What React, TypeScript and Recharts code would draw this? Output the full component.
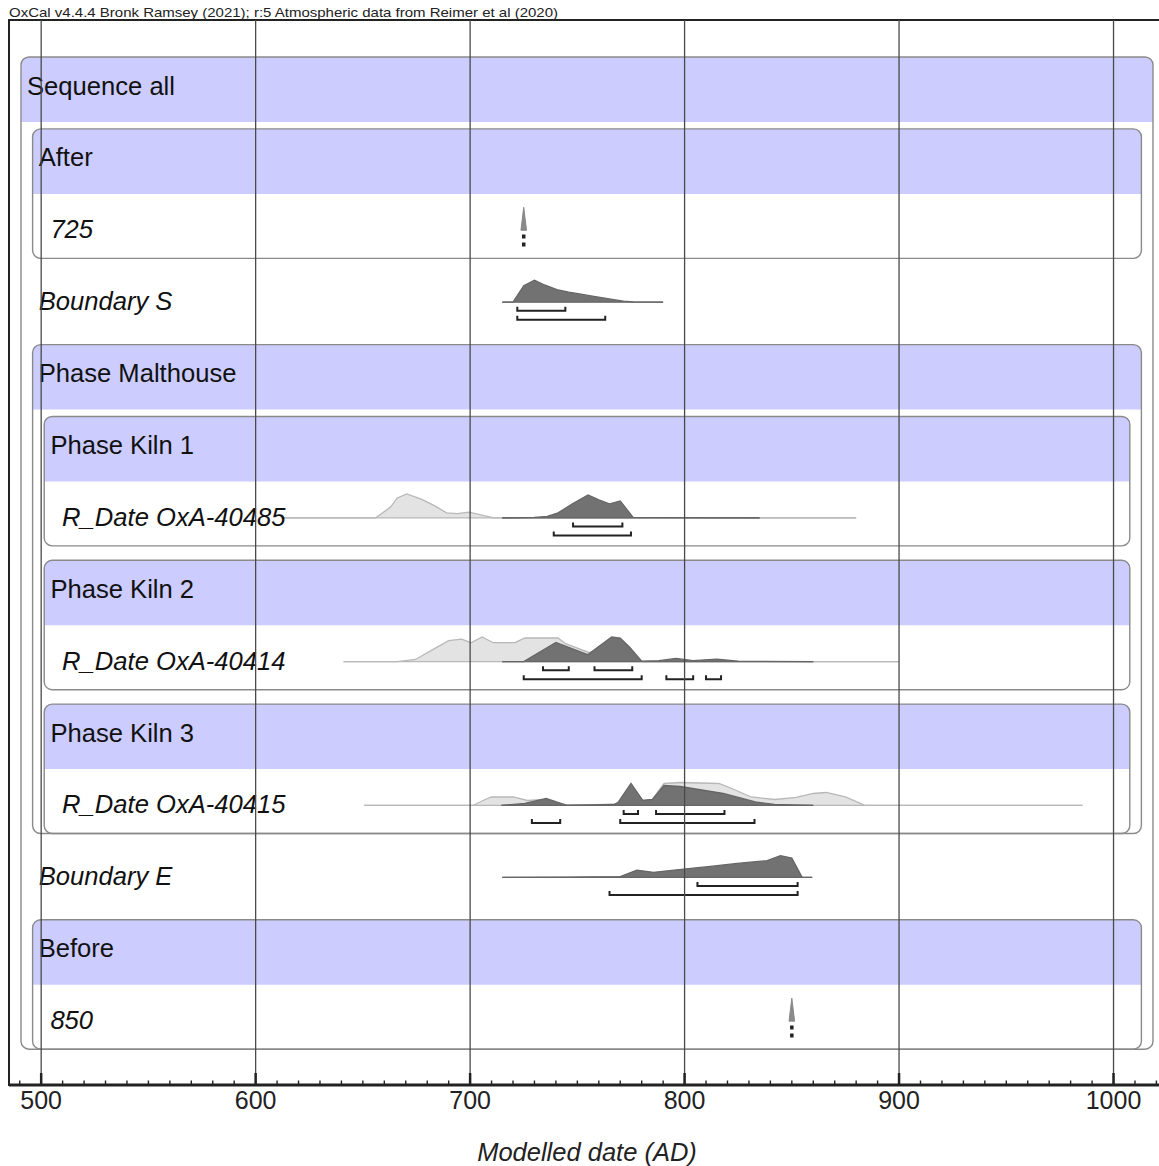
import React from "react";
import {
	ComposedChart,
	XAxis,
	YAxis,
	Area,
	Line,
	ReferenceArea,
	ReferenceLine,
} from "recharts";

const FONT = "'Liberation Sans', Arial, sans-serif";

const titleText =
	"OxCal v4.4.4 Bronk Ramsey (2021); r:5 Atmospheric data from Reimer et al (2020)";
const axisTitle = "Modelled date (AD)";

// x axis (calendar years AD)
const xDomain = [485, 1024];
const majorTicks = [500, 600, 700, 800, 900, 1000];
const allTicks = Array.from({ length: 54 }, (_, i) => 490 + i * 10);

// rows, top to bottom
const rowLabels = [
	"Sequence all",
	"After",
	"725",
	"Boundary S",
	"Phase Malthouse",
	"Phase Kiln 1",
	"R_Date OxA-40485",
	"Phase Kiln 2",
	"R_Date OxA-40414",
	"Phase Kiln 3",
	"R_Date OxA-40415",
	"Boundary E",
	"Before",
	"850",
];
const rowDepth = [0, 1, 2, 1, 1, 2, 3, 2, 3, 2, 3, 1, 1, 2];
const rowItalic = [false, false, true, true, false, false, true, false, true, false, true, true, false, true];

// grouping boxes: [first row, last row, depth]
const groups = [
	[0, 13, 0],
	[1, 2, 1],
	[4, 10, 1],
	[5, 6, 2],
	[7, 8, 2],
	[9, 10, 2],
	[12, 13, 1],
];

// Boundary S (row 3)
const bsDates = [715, 720, 725, 730, 735, 740.5, 746, 751, 757, 762, 767, 771.5, 776, 790];
const bsProb = [0, 0, 16.5, 22, 17, 12.5, 10, 8.3, 6, 4.3, 2.5, 1, 0.3, 0];
const bs68 = [[722, 744.4]];
const bs95 = [[722, 763]];

// R_Date OxA-40485 (row 6)
const u485Dates = [612, 656, 663, 666, 670.5, 677.5, 684, 689, 694, 699.5, 706, 711, 880];
const u485Prob = [0, 0, 11, 20, 24, 18.5, 11.5, 5, 4.3, 5.7, 2.5, 0, 0];
const m485Dates = [715, 730, 736, 741, 747.7, 755, 760, 765, 770, 776, 835];
const m485Prob = [0, 0.5, 1.4, 5, 14, 23, 18, 14, 17, 0.5, 0];
const m485_68 = [[748, 771]];
const m485_95 = [[739, 775]];

// R_Date OxA-40414 (row 8)
const u414Dates = [641, 666, 674.5, 683, 690, 696, 700.4, 705.6, 710.8, 721, 725.5, 741, 744.5, 755.6, 763.5, 771, 780, 900];
const u414Prob = [0, 0, 2.2, 12.6, 21, 22.6, 19, 24.8, 19, 19, 23.7, 23.7, 18, 9, 15.6, 10.7, 0, 0];
const m414Dates = [715, 725, 740, 754.8, 766, 770, 774.4, 780, 788, 796, 804, 815, 825, 860];
const m414Prob = [0, 0, 19.3, 7, 24.8, 23.7, 14.4, 0.5, 1, 3.3, 1, 2.6, 0.5, 0];
const m414_68 = [[734, 746], [758, 775.6]];
const m414_95 = [[725, 780], [791.5, 804], [810, 817]];

// R_Date OxA-40415 (row 10)
const u415Dates = [650.6, 701.3, 706, 710, 720, 726.8, 734, 745, 767, 775, 780.3, 785, 790.4, 798, 816, 822, 831, 842, 852, 860, 866, 875, 884, 985.5];
const u415Prob = [0, 0, 5, 8.5, 8.5, 5, 6, 0.5, 1, 10, 5, 6, 22, 23, 22, 17, 8.5, 6, 8, 12, 13, 8.5, 0, 0];
const m415Dates = [714.6, 725.5, 735.5, 745, 767, 769, 775, 780.5, 785, 790.4, 798, 818, 833, 842, 860];
const m415Prob = [0, 2, 7, 0, 1, 3, 22, 5, 6, 20, 19, 12, 3.5, 1, 0];
const m415_68 = [[771.6, 778.3], [786.7, 818.6]];
const m415_95 = [[728.8, 742], [770, 832.6]];

// Boundary E (row 11)
const beDates = [715, 745, 770, 777.8, 785.5, 799.6, 812, 824.5, 838.5, 844.7, 850, 854.8, 859.5];
const beProb = [0, 0.3, 0.8, 7.3, 5, 8.3, 11, 14, 16.7, 21.7, 19.3, 0, 0];
const be68 = [[806, 852.7]];
const be95 = [[765, 852.7]];

// After 725 (row 2) and Before 850 (row 13)
const afterDates = [723.7, 725, 726.3];
const beforeDates = [848.7, 850, 851.3];
const spikeProb = [0, 23, 0];

// row geometry (in row units)
const Y_MIN = -0.515;
const Y_MAX = 14.298;
const BAND_H = 0.904;
const BOX_BOTTOM = 0.8;
const BASE = 0.41;
const PROB_SCALE = 1 / 72;
const TICK_UP = 0.056;
const OFF68 = 0.12;
const OFF95 = 0.245;

const densityData = (row: number, dates: number[], probs: number[]) =>
	dates.map((d, i) => ({
		x: d,
		y: [row + BASE, row + BASE - probs[i] * PROB_SCALE],
	}));

const bracketData = (row: number, ranges: number[][], offset: number) => {
	const y = row + BASE + offset;
	const out: { x: number; y: number | null }[] = [];
	ranges.forEach(([a, b], i) => {
		if (i > 0) out.push({ x: a, y: null });
		out.push({ x: a, y: y - TICK_UP }, { x: a, y }, { x: b, y }, { x: b, y: y - TICK_UP });
	});
	return out;
};

const unmodelled = [
	{ row: 6, dates: u485Dates, probs: u485Prob },
	{ row: 8, dates: u414Dates, probs: u414Prob },
	{ row: 10, dates: u415Dates, probs: u415Prob },
];

const modelled = [
	{ row: 3, dates: bsDates, probs: bsProb, r68: bs68, r95: bs95 },
	{ row: 6, dates: m485Dates, probs: m485Prob, r68: m485_68, r95: m485_95 },
	{ row: 8, dates: m414Dates, probs: m414Prob, r68: m414_68, r95: m414_95 },
	{ row: 10, dates: m415Dates, probs: m415Prob, r68: m415_68, r95: m415_95 },
	{ row: 11, dates: beDates, probs: beProb, r68: be68, r95: be95 },
];

const spikes = [
	{ row: 2, dates: afterDates, at: 725 },
	{ row: 13, dates: beforeDates, at: 850 },
];

const inset = (depth: number) => 12 + depth * 11.6;

const bandShape = (depth: number) => (p: any) => {
	const x = p.x + inset(depth);
	const w = p.width - 2 * inset(depth);
	const y = p.y;
	const h = p.height;
	const r = 8;
	const d = `M${x},${y + h} L${x},${y + r} Q${x},${y} ${x + r},${y} L${x + w - r},${y} Q${x + w},${y} ${x + w},${y + r} L${x + w},${y + h} Z`;
	return <path d={d} fill="#ccccff" stroke="none" />;
};

const boxShape = (depth: number) => (p: any) => (
	<rect
		x={p.x + inset(depth)}
		y={p.y}
		width={p.width - 2 * inset(depth)}
		height={p.height}
		rx={8}
		ry={8}
		fill="none"
		stroke="#8a8a8a"
		strokeWidth={1.4}
	/>
);

const labelShape = (text: string, depth: number, italic: boolean) => (p: any) => (
	<text
		x={p.x + 18 + depth * 11.7}
		y={p.y + 37.5}
		fontSize={25.6}
		fontFamily={FONT}
		fontStyle={italic ? "italic" : "normal"}
		fill="#111"
	>
		{text}
	</text>
);

const frameShape = (p: any) => (
	<rect x={p.x} y={p.y} width={p.width} height={p.height} fill="none" stroke="#222" strokeWidth={2} />
);

const AxisTick = (props: any) => {
	const { x, y, payload } = props;
	const v = payload.value;
	const major = v % 100 === 0;
	return (
		<g>
			<line x1={x} x2={x} y1={y} y2={y - (major ? 12 : 4.5)} stroke="#222" strokeWidth={major ? 2.5 : 1.4} />
			{major && (
				<text x={x} y={y + 24} textAnchor="middle" fontSize={25} fontFamily={FONT} fill="#222">
					{v}
				</text>
			)}
		</g>
	);
};

const App: React.FC = () => {
	return (
		<div
			style={{
				position: "absolute",
				left: 0,
				top: 0,
				width: 1159,
				height: 1166,
				overflow: "hidden",
				background: "#fff",
			}}
		>
			<svg width={700} height={20} style={{ position: "absolute", left: 0, top: 0 }}>
				<text x={9} y={17} fontSize={13.5} fontFamily={FONT} fill="#222" textLength={549} lengthAdjust="spacingAndGlyphs">
					{titleText}
				</text>
			</svg>
			<ComposedChart width={1180} height={1166} margin={{ top: 20, right: 15, bottom: 11, left: 9 }}>
				<XAxis
					type="number"
					dataKey="x"
					domain={xDomain}
					allowDataOverflow
					ticks={allTicks}
					interval={0}
					tick={<AxisTick />}
					tickLine={false}
					tickSize={0}
					tickMargin={0}
					height={70}
					axisLine={{ stroke: "#222", strokeWidth: 3 }}
					label={(p: any) => {
						const vb = p.viewBox;
						return (
							<text
								x={vb.x + vb.width / 2}
								y={vb.y + 76}
								textAnchor="middle"
								fontSize={25.5}
								fontStyle="italic"
								fontFamily={FONT}
								fill="#222"
							>
								{axisTitle}
							</text>
						);
					}}
				/>
				<YAxis type="number" domain={[Y_MIN, Y_MAX]} reversed hide allowDataOverflow />

				<ReferenceArea x1={xDomain[0]} x2={xDomain[1]} y1={Y_MIN} y2={Y_MAX} shape={frameShape} />

				{groups.map(([from, , depth]) => (
					<ReferenceArea
						key={`band-${from}`}
						x1={xDomain[0]}
						x2={xDomain[1]}
						y1={from}
						y2={from + BAND_H}
						shape={bandShape(depth)}
					/>
				))}

				{unmodelled.map((s) => (
					<Area
						key={`u-${s.row}`}
						data={densityData(s.row, s.dates, s.probs)}
						dataKey="y"
						type="linear"
						stroke="#b8b8b8"
						strokeWidth={1.3}
						fill="#e3e3e3"
						fillOpacity={1}
						dot={false}
						activeDot={false}
						isAnimationActive={false}
					/>
				))}

				{modelled.map((s) => (
					<Area
						key={`m-${s.row}`}
						data={densityData(s.row, s.dates, s.probs)}
						dataKey="y"
						type="linear"
						stroke="#666"
						strokeWidth={1.3}
						fill="#727272"
						fillOpacity={1}
						dot={false}
						activeDot={false}
						isAnimationActive={false}
					/>
				))}

				{spikes.map((s) => (
					<Area
						key={`s-${s.row}`}
						data={densityData(s.row, s.dates, spikeProb)}
						dataKey="y"
						type="linear"
						stroke="#888"
						strokeWidth={1}
						fill="#8a8a8a"
						fillOpacity={1}
						dot={false}
						activeDot={false}
						isAnimationActive={false}
					/>
				))}

				{groups.map(([from, to, depth]) => (
					<ReferenceArea
						key={`box-${from}`}
						x1={xDomain[0]}
						x2={xDomain[1]}
						y1={from}
						y2={to + BOX_BOTTOM}
						shape={boxShape(depth)}
					/>
				))}

				{rowLabels.map((t, i) => (
					<ReferenceArea
						key={`lab-${i}`}
						x1={xDomain[0]}
						x2={xDomain[1]}
						y1={i}
						y2={i + 1}
						shape={labelShape(t, rowDepth[i], rowItalic[i])}
					/>
				))}

				{modelled.map((s) => (
					<Line
						key={`h68-${s.row}`}
						data={bracketData(s.row, s.r68, OFF68)}
						dataKey="y"
						type="linear"
						stroke="#222"
						strokeWidth={2}
						dot={false}
						activeDot={false}
						isAnimationActive={false}
					/>
				))}
				{modelled.map((s) => (
					<Line
						key={`h95-${s.row}`}
						data={bracketData(s.row, s.r95, OFF95)}
						dataKey="y"
						type="linear"
						stroke="#222"
						strokeWidth={2}
						dot={false}
						activeDot={false}
						isAnimationActive={false}
					/>
				))}
				{spikes.map((s) => (
					<Line
						key={`dot-${s.row}`}
						data={[
							{ x: s.at, y: s.row + BASE + 0.06 },
							{ x: s.at, y: s.row + BASE + 0.26 },
						]}
						dataKey="y"
						type="linear"
						stroke="#222"
						strokeWidth={3.5}
						strokeDasharray="4 4"
						dot={false}
						activeDot={false}
						isAnimationActive={false}
					/>
				))}

				{majorTicks.map((v) => (
					<ReferenceLine key={`g-${v}`} x={v} stroke="#4a4a4a" strokeWidth={1.3} />
				))}
			</ComposedChart>
		</div>
	);
};

export default App;
